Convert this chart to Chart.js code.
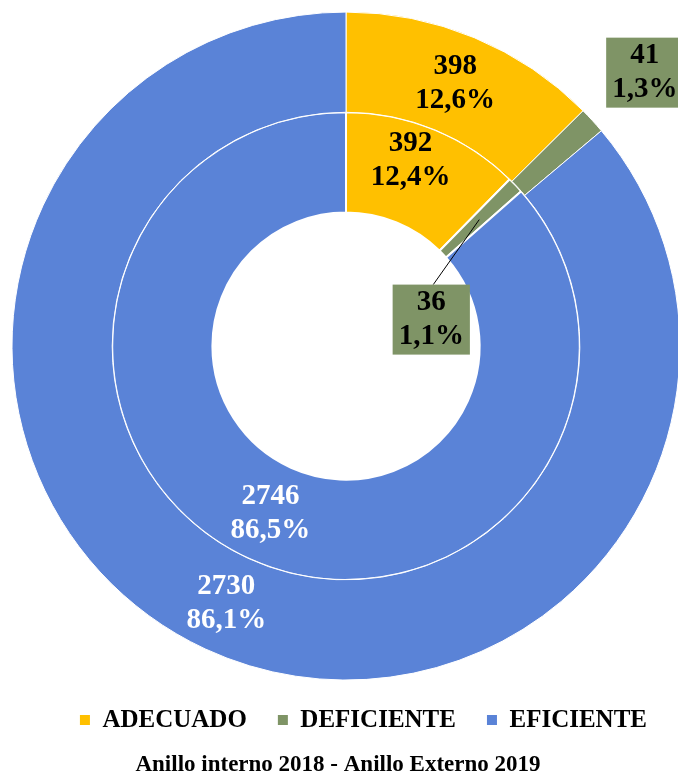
<!DOCTYPE html>
<html>
<head>
<meta charset="utf-8">
<script src="https://cdn.jsdelivr.net/npm/chart.js@4.4.0/dist/chart.umd.min.js"></script>
<style>
    html, body { margin: 0; padding: 0; background: #fff; overflow: hidden; }
    #wrap { width: 678px; height: 774px; position: relative; }
</style>
</head>
<body>
<div id="wrap"><canvas id="rings"></canvas></div>
<script>
const categories = ['ADECUADO', 'DEFICIENTE', 'EFICIENTE'];
const values2019 = [398, 41, 2730];   // anillo externo
const values2018 = [392, 36, 2746];   // anillo interno
const sliceColors = ['#FFC000', '#7F9466', '#5A83D7'];
const labelColors = ['#000', '#000', '#fff'];
const titleText = 'Anillo interno 2018 - Anillo Externo 2019';

const FONT = '"Liberation Serif", "Times New Roman", serif';
Chart.defaults.font.family = FONT;
Chart.defaults.color = '#000';

function pct(v, arr) {
    const total = arr.reduce((a, b) => a + b, 0);
    return (v / total * 100).toFixed(1).replace('.', ',') + '%';
}

function drawLines(ctx, lines, x, y, color) {
    ctx.fillStyle = color;
    ctx.fillText(lines[0], x, y - 17);
    ctx.fillText(lines[1], x, y + 17);
}

// etiquetas de valor y porcentaje sobre cada porcion
const sliceLabels = {
    id: 'sliceLabels',
    afterDatasetsDraw(chart) {
        const ctx = chart.ctx;
        ctx.save();
        ctx.font = 'bold 29px ' + FONT;
        ctx.textAlign = 'center';
        ctx.textBaseline = 'middle';
        chart.data.datasets.forEach((ds, di) => {
            const meta = chart.getDatasetMeta(di);
            meta.data.forEach((arc, i) => {
                const lines = [String(ds.data[i]), pct(ds.data[i], ds.data)];
                let {x, y} = arc.tooltipPosition();
                if (i === 1) {
                    const w = Math.max(ctx.measureText(lines[0]).width, ctx.measureText(lines[1]).width) + 12;
                    const h = 70;
                    let bx, by;
                    if (di === 0) {
                        const a = (arc.startAngle + arc.endAngle) / 2;
                        bx = arc.x + Math.cos(a) * (arc.outerRadius + 71);
                        by = arc.y + Math.sin(a) * (arc.outerRadius + 71);
                    } else {
                        bx = x - 48;
                        by = y + 100;
                        ctx.strokeStyle = '#000';
                        ctx.lineWidth = 1;
                        ctx.beginPath();
                        ctx.moveTo(x, y);
                        ctx.lineTo(bx + 2, by - h / 2);
                        ctx.stroke();
                    }
                    ctx.fillStyle = sliceColors[i];
                    ctx.fillRect(bx - w / 2, by - h / 2, w, h);
                    drawLines(ctx, lines, bx, by, labelColors[i]);
                    return;
                }
                if (di === 1 && i === 0) { x -= 5; y -= 15; }
                drawLines(ctx, lines, x, y, labelColors[i]);
            });
        });
        ctx.restore();
    }
};

const nudgeTitle = {
    id: 'nudgeTitle',
    afterLayout(chart) {
        const t = chart.titleBlock;
        if (t) { t.left -= 8; t.right -= 8; }
    }
};

const chart = new Chart(document.getElementById('rings'), {
    type: 'doughnut',
    data: {
        labels: categories,
        datasets: [
            { label: '2019', data: values2019, backgroundColor: sliceColors, borderColor: '#fff', borderWidth: 1, clip: false },
            { label: '2018', data: values2018, backgroundColor: sliceColors, borderColor: '#fff', borderWidth: 2, clip: false }
        ]
    },
    options: {
        responsive: true,
        maintainAspectRatio: false,
        animation: false,
        cutout: '40%',
        radius: 334,
        layout: { padding: { left: 14, right: 0, top: 15.5, bottom: 0 } },
        plugins: {
            tooltip: { enabled: false },
            legend: {
                position: 'bottom',
                align: 'end',
                labels: {
                    boxWidth: 10,
                    boxHeight: 10,
                    padding: 31,
                    color: '#000',
                    font: { size: 25, weight: 'bold' },
                    generateLabels: () => categories.map((c, i) => ({
                        text: c,
                        fillStyle: sliceColors[i],
                        strokeStyle: sliceColors[i],
                        lineWidth: 0,
                        hidden: false,
                        index: i
                    }))
                }
            },
            title: {
                display: true,
                text: titleText,
                position: 'bottom',
                color: '#000',
                font: { size: 23, weight: 'bold', lineHeight: 0.8 },
                padding: { top: 13, bottom: 0 }
            }
        }
    },
    plugins: [sliceLabels, nudgeTitle]
});
</script>
</body>
</html>
